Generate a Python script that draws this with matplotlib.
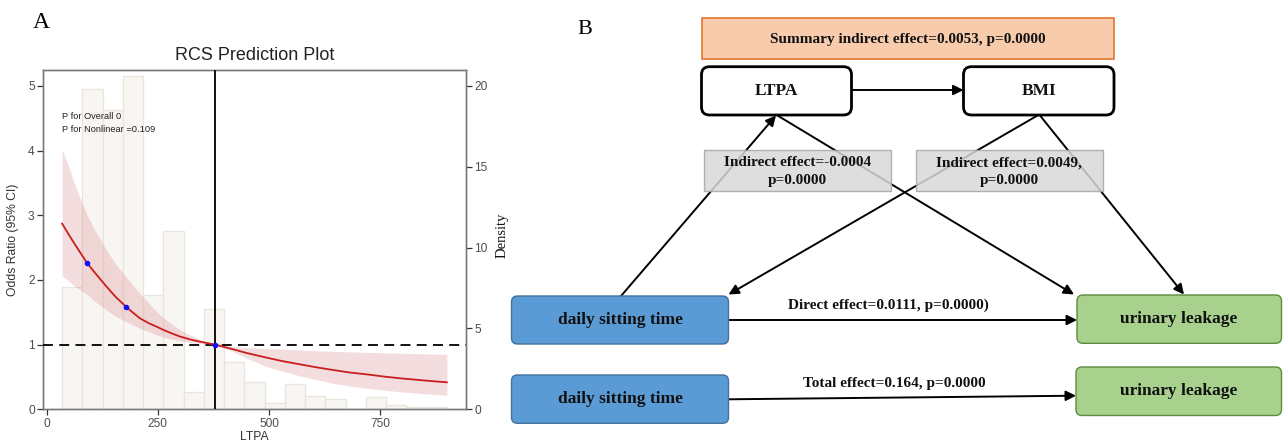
import numpy as np
import matplotlib
matplotlib.use('Agg')
import matplotlib.pyplot as plt
from matplotlib.patches import FancyBboxPatch, Rectangle

# ---------------- Panel A data ----------------
hist_start, hist_end = 35, 900
hist_density = [7.55, 19.8, 18.5, 20.6, 7.05, 11.05, 1.05, 6.2, 2.95, 1.67,
                0.37, 1.56, 0.82, 0.62, 0.03, 0.74, 0.25, 0.16, 0.16]
curve_x = [35, 50, 60, 75, 91.5, 110, 135, 155, 178.6, 195, 210, 230, 247.5,
           265, 285, 300, 322.6, 345, 379,
           420, 450, 495, 530, 570, 610, 645, 680, 720, 760, 795, 850, 900]
curve_or = [2.87, 2.70, 2.59, 2.43, 2.257, 2.10, 1.895, 1.74, 1.586, 1.49, 1.406, 1.33, 1.277,
            1.22, 1.164, 1.125, 1.08, 1.045, 1.0,
            0.927, 0.87, 0.798, 0.745, 0.695, 0.645, 0.607, 0.57, 0.54, 0.505, 0.479, 0.445, 0.417]
ci_upper = [4.01, 3.75, 3.54, 3.27, 3.0, 2.75, 2.46, 2.25, 2.05, 1.91, 1.79, 1.64, 1.51,
            1.40, 1.30, 1.23, 1.15, 1.08, 1.0,
            0.968, 0.955, 0.94, 0.93, 0.917, 0.906, 0.896, 0.888, 0.88, 0.873, 0.866, 0.858, 0.85]
ci_lower = [2.065, 1.98, 1.92, 1.85, 1.77, 1.66, 1.535, 1.44, 1.354, 1.30, 1.25, 1.20, 1.15,
            1.11, 1.08, 1.06, 1.035, 1.015, 1.0,
            0.89, 0.79, 0.658, 0.59, 0.515, 0.455, 0.40, 0.36, 0.325, 0.295, 0.27, 0.24, 0.216]
point_x = [91.5, 178.6, 379]
point_or = [2.257, 1.586, 1.0]
ref_x = 379
ref_or = 1
x_ticks = [0, 250, 500, 750]
y_ticks = [0, 1, 2, 3, 4, 5]
dens_ticks = [0, 5, 10, 15, 20]
p_texts = ["P for Overall 0", "P for Nonlinear =0.109"]
title_a = "RCS Prediction Plot"

# ---------------- Panel B data ----------------
summary_label = "Summary indirect effect=0.0053, p=0.0000"
mediator_labels = ["LTPA", "BMI"]
indirect_labels = ["Indirect effect=-0.0004\np=0.0000", "Indirect effect=0.0049,\np=0.0000"]
exposure_label = "daily sitting time"
outcome_label = "urinary leakage"
direct_label = "Direct effect=0.0111, p=0.0000)"
total_label = "Total effect=0.164, p=0.0000"

W, H = 1283, 444
fig = plt.figure(figsize=(W / 100, H / 100), dpi=100)
fig.patch.set_facecolor('white')

sans = 'Liberation Sans'
serif = 'Liberation Serif'

# ---- Panel A axes ----
axl, axr, axt, axb = 43, 466, 70, 409.3
ax = fig.add_axes([axl / W, 1 - axb / H, (axr - axl) / W, (axb - axt) / H])
axh = ax.twinx()
ax.set_zorder(axh.get_zorder() + 1)
ax.patch.set_visible(False)

edges = np.linspace(hist_start, hist_end, len(hist_density) + 1)
axh.bar(edges[:-1], hist_density, width=np.diff(edges), align='edge',
        color='#F8F6F2', edgecolor='#EAE5DC', linewidth=0.9)
axh.set_ylim(0, 20.98)
axh.set_yticks(dens_ticks)

ax.fill_between(curve_x, ci_lower, ci_upper, color='#D06870', alpha=0.22, linewidth=0)
ax.plot(curve_x, curve_or, color='#C81F1E', lw=1.3, zorder=4)
ax.axhline(ref_or, color='black', lw=1.3, ls=(0, (5.5, 3.5)), zorder=3)
ax.axvline(ref_x, color='#111111', lw=1.4, zorder=3)
ax.plot(point_x, point_or, 'o', color='#1010FF', ms=3, zorder=5)
ax.set_xlim(-8, 943)
ax.set_ylim(0, 5.245)
ax.set_xticks(x_ticks)
ax.set_yticks(y_ticks)

for a in (ax, axh):
    for s in a.spines.values():
        s.set_color('#7A7A7A')
        s.set_linewidth(1.0)
    a.tick_params(colors='#333333', labelcolor='#4D4D4D', labelsize=8.6,
                  length=4, width=0.9, pad=2)
    for lab in a.get_xticklabels() + a.get_yticklabels():
        lab.set_family(sans)

ax.text(35, 4.53, p_texts[0], fontsize=6.7, family=sans, color='#222222', va='center', ha='left')
ax.text(35, 4.33, p_texts[1], fontsize=6.7, family=sans, color='#222222', va='center', ha='left')

ax.text(0.5, 1 + 14.5 / (axb - axt), title_a, transform=ax.transAxes, ha='center', va='center',
        fontsize=13, family=sans, color='#222222')
ax.set_ylabel("Odds Ratio (95% CI)", fontsize=8.7, family=sans, color='#333333')
ax.yaxis.set_label_coords((19 - axl) / (axr - axl), 0.5)
ax.set_xlabel("LTPA", fontsize=8.7, family=sans, color='#333333')
ax.xaxis.set_label_coords(0.5, -(437 - axb) / (axb - axt))
ax.xaxis.label.set_va('center')

fig.text(502 / W, 1 - 235 / H, "Density", rotation=90, ha='center', va='center',
         fontsize=10.5, family=serif, color='#111111')
fig.text(41 / W, 1 - 22 / H, "A", ha='center', va='center', fontsize=17, family=serif)
fig.text(585 / W, 1 - 29.5 / H, "B", ha='center', va='center', fontsize=16, family=serif)

# ---- Panel B diagram ----
axd = fig.add_axes([0, 0, 1, 1])
axd.set_xlim(0, W)
axd.set_ylim(H, 0)
axd.axis('off')

def arrow(p0, p1):
    axd.annotate('', xy=p1, xytext=p0,
                 arrowprops=dict(arrowstyle='-|>', color='black', lw=1.4,
                                 mutation_scale=15, shrinkA=0, shrinkB=0),
                 zorder=2)

def rbox(x, y, w, h, fc, ec, lw, r, z=3):
    axd.add_patch(FancyBboxPatch((x, y), w, h, boxstyle=f"round,pad=0,rounding_size={r}",
                                 fc=fc, ec=ec, lw=lw, zorder=z))

bold = dict(family=serif, weight='bold', color='#111111', ha='center', va='center', zorder=5)

# lines & arrows
arrow((851.5, 90), (963.5, 90))
arrow((621, 296), (776, 115.5))
arrow((777.5, 115.5), (1074, 294.5))
arrow((1037.5, 115.5), (728.5, 294.5))
arrow((1040, 115.5), (1184, 294.5))
arrow((728.5, 320), (1077, 320))
arrow((728.5, 399.3), (1076, 395.7))

# summary box
axd.add_patch(Rectangle((701.5, 18.3), 412.5, 40.7, fc='#F8CBAD', ec='#E2762E', lw=1.2, zorder=3))
axd.text(907.5, 39, summary_label, fontsize=11, **bold)

# mediators
rbox(701.5, 66.7, 150, 48.3, 'white', 'black', 2.0, 8)
rbox(963.5, 66.7, 150.5, 48.3, 'white', 'black', 2.0, 8)
axd.text(776.5, 91, mediator_labels[0], fontsize=12.5, **bold)
axd.text(1038.7, 91, mediator_labels[1], fontsize=12.5, **bold)

# indirect effect boxes
for x0, w, lab in [(703.5, 187.5, indirect_labels[0]), (915.5, 187, indirect_labels[1])]:
    axd.add_patch(Rectangle((x0, 150), w, 40.7, fc='#D9D9D9', ec='#A6A6A6', lw=1.0,
                            alpha=0.85, zorder=3))
    axd.text(x0 + w / 2, 171.7, lab, fontsize=11, linespacing=1.5, **bold)

# exposure / outcome boxes
rbox(511.5, 296, 217, 48, '#5B9BD5', '#41719C', 1.0, 6)
rbox(511.5, 375, 217, 48.3, '#5B9BD5', '#41719C', 1.0, 6)
rbox(1077, 295, 204.5, 48.3, '#A9D18E', '#5E8C3E', 1.0, 6)
rbox(1076, 367, 205.5, 48.5, '#A9D18E', '#5E8C3E', 1.0, 6)
axd.text(620, 320, exposure_label, fontsize=12.5, **bold)
axd.text(620, 399, exposure_label, fontsize=12.5, **bold)
axd.text(1179, 319, outcome_label, fontsize=12.5, **bold)
axd.text(1179, 391, outcome_label, fontsize=12.5, **bold)

axd.text(888, 305, direct_label, fontsize=11, **bold)
axd.text(894.5, 383.3, total_label, fontsize=11, **bold)

fig.savefig('out.png', dpi=100, facecolor='white')
